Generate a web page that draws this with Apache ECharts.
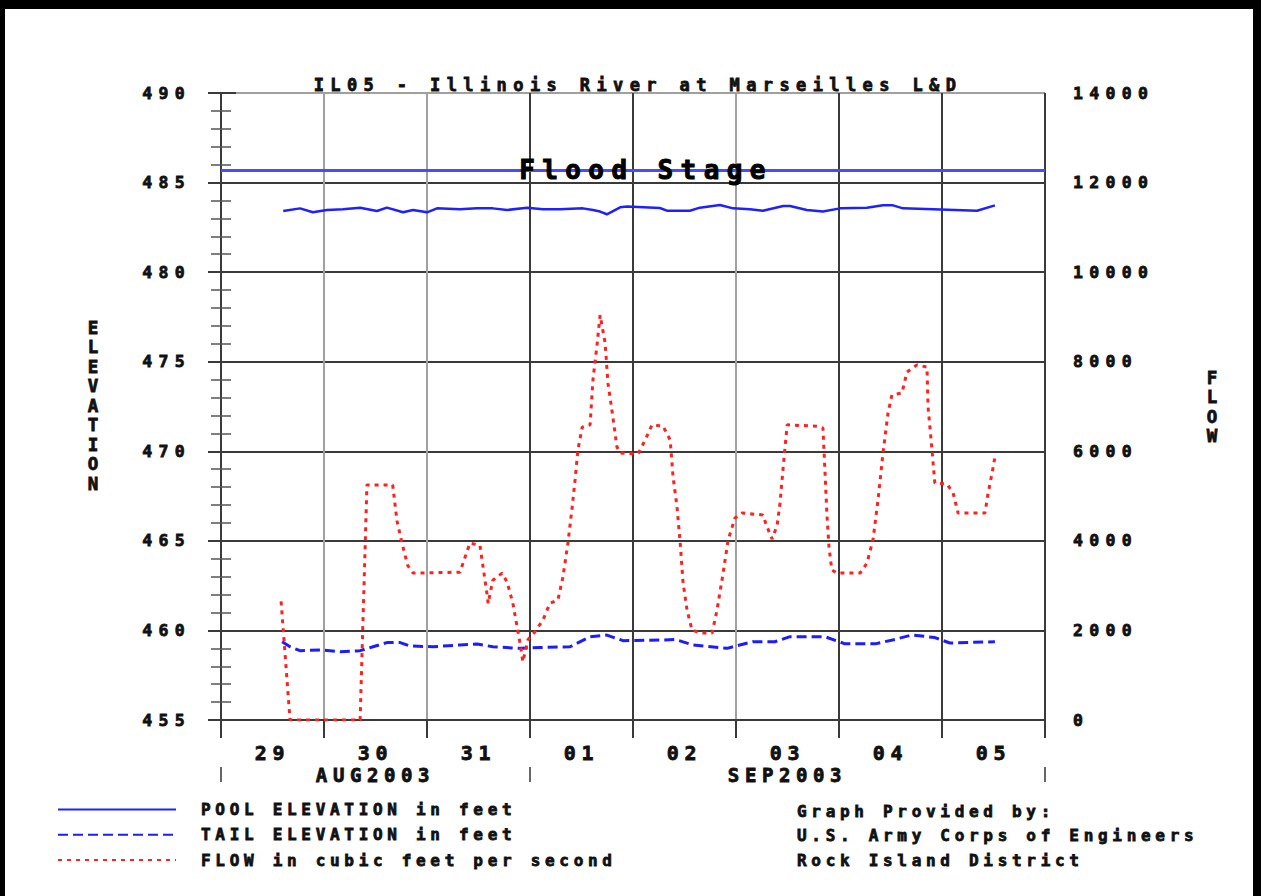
<!DOCTYPE html>
<html>
<head>
<meta charset="utf-8">
<title>IL05 - Illinois River at Marseilles L&amp;D</title>
<script src="https://cdn.jsdelivr.net/npm/echarts@6.0.0/dist/echarts.min.js"></script>
<style>
  html, body { margin: 0; padding: 0; background: #fff; }
  #wrap { position: relative; width: 1261px; height: 896px; }
  #chart { position: absolute; left: 0; top: 0; width: 1261px; height: 896px; }
  #frame {
    position: absolute; left: 0; top: 0; width: 1261px; height: 896px;
    box-sizing: border-box; pointer-events: none;
    border-top: 9px solid #000; border-left: 5px solid #000; border-right: 8px solid #000;
  }
</style>
</head>
<body>
<div id="wrap">
  <div id="chart"></div>
  <div id="frame"></div>
</div>
<script>
// ---- chart data -------------------------------------------------------
const TITLE = 'IL05 - Illinois River at Marseilles L&D';
const START = '2003-08-29 00:00';
const END = '2003-09-06 00:00';
const DAY_LABELS = ['29', '30', '31', '01', '02', '03', '04', '05'];
const MONTH_LABELS = ['AUG2003', 'SEP2003'];
const MONTH_STARTS = ['2003-08-29 00:00', '2003-09-01 00:00', '2003-09-06 00:00'];
const SERIES_NAMES = ['POOL ELEVATION in feet', 'TAIL ELEVATION in feet', 'FLOW in cubic feet per second'];
const FLOOD_STAGE = 485.7;
const CREDITS = ['Graph Provided by:', 'U.S. Army Corps of Engineers', 'Rock Island District'];

const POOL_TIMES = ['2003-08-29 14:30', '2003-08-29 18:25', '2003-08-29 21:25', '2003-08-30 00:40', '2003-08-30 04:25',
  '2003-08-30 08:25', '2003-08-30 12:20', '2003-08-30 14:40', '2003-08-30 18:25', '2003-08-30 20:45',
  '2003-08-31 00:00', '2003-08-31 02:20', '2003-08-31 07:40', '2003-08-31 11:40', '2003-08-31 15:20',
  '2003-08-31 18:40', '2003-08-31 23:20', '2003-09-01 03:00', '2003-09-01 07:00', '2003-09-01 12:20',
  '2003-09-01 14:40', '2003-09-01 16:20', '2003-09-01 17:55', '2003-09-01 21:00', '2003-09-01 22:35',
  '2003-09-02 06:15', '2003-09-02 07:55', '2003-09-02 13:15', '2003-09-02 15:35', '2003-09-02 20:15',
  '2003-09-02 23:20', '2003-09-03 03:15', '2003-09-03 06:15', '2003-09-03 11:00', '2003-09-03 12:35',
  '2003-09-03 16:30', '2003-09-03 20:15', '2003-09-04 00:15', '2003-09-04 06:30', '2003-09-04 10:15',
  '2003-09-04 12:35', '2003-09-04 14:55', '2003-09-04 21:55', '2003-09-05 08:10', '2003-09-05 12:20'];
const POOL_FT = [483.41, 483.56, 483.34, 483.47, 483.51,
  483.60, 483.41, 483.60, 483.34, 483.47,
  483.34, 483.56, 483.51, 483.56, 483.56,
  483.47, 483.60, 483.51, 483.51, 483.56,
  483.47, 483.38, 483.23, 483.62, 483.66,
  483.58, 483.43, 483.43, 483.60, 483.75,
  483.56, 483.51, 483.43, 483.69, 483.69,
  483.47, 483.38, 483.56, 483.60, 483.73,
  483.73, 483.56, 483.51, 483.43, 483.73];

const TAIL_TIMES = ['2003-08-29 14:15', '2003-08-29 16:05', '2003-08-29 18:25', '2003-08-29 23:45', '2003-08-30 03:45',
  '2003-08-30 08:25', '2003-08-30 11:25', '2003-08-30 14:40', '2003-08-30 17:45', '2003-08-30 20:00',
  '2003-08-31 01:25', '2003-08-31 07:40', '2003-08-31 11:40', '2003-08-31 15:20', '2003-08-31 21:40',
  '2003-09-01 02:20', '2003-09-01 09:20', '2003-09-01 14:00', '2003-09-01 17:55', '2003-09-01 21:40',
  '2003-09-02 06:15', '2003-09-02 09:45', '2003-09-02 14:00', '2003-09-02 21:55', '2003-09-03 03:55',
  '2003-09-03 09:05', '2003-09-03 12:35', '2003-09-03 20:45', '2003-09-04 01:25', '2003-09-04 08:25',
  '2003-09-04 13:05', '2003-09-04 17:00', '2003-09-04 22:20', '2003-09-05 01:50', '2003-09-05 12:20'];
const TAIL_FT = [459.37, 459.09, 458.87, 458.91, 458.81,
  458.87, 459.09, 459.32, 459.32, 459.13,
  459.09, 459.19, 459.24, 459.09, 459.00,
  459.05, 459.09, 459.65, 459.74, 459.43,
  459.46, 459.50, 459.19, 459.00, 459.37,
  459.37, 459.65, 459.65, 459.25, 459.25,
  459.50, 459.75, 459.60, 459.30, 459.37];

const FLOW_TIMES = ['2003-08-29 14:00', '2003-08-29 16:05', '2003-08-30 08:25', '2003-08-30 10:00', '2003-08-30 16:00',
  '2003-08-30 17:00', '2003-08-30 18:10', '2003-08-30 19:30', '2003-08-30 20:45', '2003-08-31 07:40',
  '2003-08-31 10:00', '2003-08-31 12:20', '2003-08-31 14:00', '2003-08-31 14:15', '2003-08-31 15:20',
  '2003-08-31 17:30', '2003-08-31 18:40', '2003-08-31 20:00', '2003-08-31 21:00', '2003-08-31 21:40',
  '2003-08-31 22:20', '2003-08-31 23:30', '2003-09-01 01:10', '2003-09-01 03:00', '2003-09-01 04:40',
  '2003-09-01 06:30', '2003-09-01 07:40', '2003-09-01 08:50', '2003-09-01 09:50', '2003-09-01 10:30',
  '2003-09-01 11:10', '2003-09-01 12:10', '2003-09-01 14:00', '2003-09-01 14:40', '2003-09-01 15:40',
  '2003-09-01 16:20', '2003-09-01 17:30', '2003-09-01 18:10', '2003-09-01 19:05', '2003-09-01 20:15',
  '2003-09-01 21:00', '2003-09-02 01:10', '2003-09-02 02:50', '2003-09-02 04:25', '2003-09-02 07:00',
  '2003-09-02 08:40', '2003-09-02 09:20', '2003-09-02 10:15', '2003-09-02 11:00', '2003-09-02 11:40',
  '2003-09-02 12:35', '2003-09-02 13:45', '2003-09-02 15:35', '2003-09-02 18:25', '2003-09-02 19:35',
  '2003-09-02 21:00', '2003-09-02 22:10', '2003-09-02 23:45', '2003-09-03 01:25', '2003-09-03 06:15',
  '2003-09-03 07:15', '2003-09-03 08:25', '2003-09-03 09:35', '2003-09-03 10:15', '2003-09-03 11:00',
  '2003-09-03 11:55', '2003-09-03 18:50', '2003-09-03 20:15', '2003-09-03 20:45', '2003-09-03 21:10',
  '2003-09-03 21:40', '2003-09-03 22:20', '2003-09-03 23:30', '2003-09-04 04:55', '2003-09-04 06:30',
  '2003-09-04 07:55', '2003-09-04 09:05', '2003-09-04 10:15', '2003-09-04 11:25', '2003-09-04 12:20',
  '2003-09-04 14:40', '2003-09-04 15:50', '2003-09-04 18:10', '2003-09-04 20:30', '2003-09-04 20:45',
  '2003-09-04 21:40', '2003-09-04 22:20', '2003-09-05 01:10', '2003-09-05 02:35', '2003-09-05 03:45',
  '2003-09-05 10:00', '2003-09-05 10:45', '2003-09-05 11:40', '2003-09-05 12:20'];
const FLOW_CFS = [2650, 0, 0, 5250, 5250,
  4450, 3950, 3450, 3280, 3300,
  3950, 3900, 2800, 2600, 3120,
  3280, 3080, 2610, 2080, 1720,
  1300, 1790, 1970, 2230, 2610,
  2680, 3190, 3950, 4760, 5360,
  6030, 6540, 6590, 7590, 8420,
  9040, 8420, 7520, 6920, 6100,
  5960, 5940, 6250, 6590, 6560,
  6250, 5430, 4760, 3950, 3060,
  2460, 2010, 1940, 1940, 2460,
  3280, 4020, 4510, 4620, 4580,
  4310, 4040, 4350, 4840, 5650,
  6590, 6560, 6520, 5510, 4620,
  3860, 3350, 3280, 3280, 3500,
  4020, 4910, 5960, 6850, 7260,
  7300, 7770, 7930, 7880, 6990,
  6030, 5290, 5270, 5070, 4620,
  4620, 5070, 5510, 5870];

// ---- helpers ----------------------------------------------------------
// Hours elapsed since the start of the plotted period.
function hoursOf(stamp) {
  const [d, t] = stamp.split(' ');
  const [Y, M, D] = d.split('-').map(Number);
  const [h, m] = t.split(':').map(Number);
  const [Y0, M0, D0] = START.split(' ')[0].split('-').map(Number);
  return (Date.UTC(Y, M - 1, D, h, m) - Date.UTC(Y0, M0 - 1, D0)) / 3600000;
}
const pairs = (times, vals) => times.map((t, i) => [hoursOf(t), vals[i]]);

const SPAN_H = hoursOf(END);
const DAY_CENTERS = DAY_LABELS.map((_, i) => i * 24 + 12);
const MONTH_EDGES = MONTH_STARTS.map(hoursOf);
const MONTH_CENTERS = MONTH_LABELS.map((_, i) => (MONTH_EDGES[i] + MONTH_EDGES[i + 1]) / 2);

const FONT = '"DejaVu Sans Mono", "Liberation Mono", monospace';

// Wide bitmap-style lettering: extra tracking per font size.
const TRACKING = { '17px': 6.4, '16.5px': 6.3, '20px': 5.6, '19px': 5.6, '16px': 4.7, '26px': 7.4 };
const css = Object.keys(TRACKING)
  .map(k => `#chart text[style*="${k}"] { letter-spacing: ${TRACKING[k]}px; }`).join('\n');
const styleTag = document.createElement('style');
styleTag.textContent = css;
document.head.appendChild(styleTag);

const DARK = '#3a3a3a';
const GREY = '#a0a0a0';
const INK = '#111111';

const chart = echarts.init(document.getElementById('chart'), null, { renderer: 'svg' });

// Heavy lettering: bold face plus a thin outline in the same ink.
const txt = (size) => ({
  fontFamily: FONT, fontWeight: 'bold', fontSize: size, color: INK,
  textBorderColor: INK, textBorderWidth: 0.8
});

chart.setOption({
  animation: false,
  backgroundColor: '#ffffff',
  title: {
    text: TITLE,
    left: 633, top: 71, textAlign: 'center',
    textStyle: txt(17)
  },
  grid: { left: 221, top: 93, width: 824, height: 627 },
  legend: {
    orient: 'vertical',
    left: 57, top: 801, padding: 0,
    itemWidth: 118, itemHeight: 14, itemGap: 8.5,
    selectedMode: false,
    itemStyle: { opacity: 0 },
    data: SERIES_NAMES,
    textStyle: Object.assign(txt(16), { padding: [0, 0, 0, 20] })
  },
  xAxis: [
    {
      type: 'value', min: 0, max: SPAN_H, interval: 24,
      axisLine: { show: true, lineStyle: { color: DARK, width: 2 } },
      axisTick: { show: true, length: 18, lineStyle: { color: DARK, width: 2 } },
      axisLabel: {
        customValues: DAY_CENTERS,
        formatter: v => DAY_LABELS[Math.round((v - 12) / 24)],
        margin: 23,
        ...txt(20)
      },
      splitLine: {
        show: true,
        lineStyle: { width: 2, color: [DARK, GREY, GREY, DARK, DARK, GREY, DARK, DARK, DARK] }
      }
    },
    {
      type: 'value', min: 0, max: SPAN_H, position: 'bottom', offset: 47,
      axisLine: { show: false },
      axisTick: { show: true, customValues: MONTH_EDGES, length: 15, lineStyle: { color: '#666', width: 2 } },
      axisLabel: {
        customValues: MONTH_CENTERS,
        formatter: v => MONTH_LABELS[MONTH_CENTERS.indexOf(v)],
        margin: -2,
        ...txt(19)
      },
      splitLine: { show: false }
    }
  ],
  yAxis: [
    {
      type: 'value', position: 'left', min: 455, max: 490, interval: 5,
      axisLine: { show: true, lineStyle: { color: DARK, width: 2 } },
      axisTick: { show: true, length: 13, lineStyle: { color: DARK, width: 2 } },
      minorTick: { show: true, splitNumber: 5, length: 10, lineStyle: { color: '#555', width: 1.5 } },
      axisLabel: { margin: 30, formatter: v => String(v), ...txt(16.5) },
      splitLine: {
        show: true,
        lineStyle: { width: 2, color: [DARK, DARK, DARK, DARK, DARK, DARK, DARK, GREY] }
      }
    },
    {
      type: 'value', position: 'right', min: 0, max: 14000, interval: 2000,
      axisLine: { show: true, lineStyle: { color: DARK, width: 2 } },
      axisTick: { show: true, length: 15, lineStyle: { color: DARK, width: 2 } },
      minorTick: { show: true, splitNumber: 5, length: 10, lineStyle: { color: '#555', width: 1.5 } },
      axisLabel: { margin: 28, formatter: v => String(v), ...txt(16.5) },
      splitLine: { show: false }
    }
  ],
  graphic: [
    {
      type: 'text', x: 93, y: 318,
      style: { text: 'ELEVATION'.split('').join('\n'), align: 'center', verticalAlign: 'top',
               lineHeight: 19.5, font: 'bold 17.5px ' + FONT, fill: INK, stroke: INK, lineWidth: 0.8 }
    },
    {
      type: 'text', x: 1212, y: 368,
      style: { text: 'FLOW'.split('').join('\n'), align: 'center', verticalAlign: 'top',
               lineHeight: 19.5, font: 'bold 17.5px ' + FONT, fill: INK, stroke: INK, lineWidth: 0.8 }
    },
    {
      type: 'text', x: 797, y: 799,
      style: { text: CREDITS.join('\n'), align: 'left', verticalAlign: 'top',
               lineHeight: 24.5, font: 'bold 16px ' + FONT, fill: INK, stroke: INK, lineWidth: 0.8 }
    }
  ],
  series: [
    {
      name: SERIES_NAMES[0], type: 'line', xAxisIndex: 0, yAxisIndex: 0,
      data: pairs(POOL_TIMES, POOL_FT),
      symbol: 'none', z: 4,
      lineStyle: { color: '#2020ff', width: 2.5 },
      itemStyle: { color: '#2020ff' },
      markLine: {
        silent: true, symbol: 'none', animation: false,
        data: [{ yAxis: FLOOD_STAGE }],
        lineStyle: { color: '#4a4aff', width: 3, type: 'solid' },
        label: {
          show: true, position: 'insideMiddle', formatter: 'Flood Stage',
          ...txt(26), color: '#000', textBorderColor: '#000', textBorderWidth: 1,
          padding: [0, 0, 0, 26]
        },
        emphasis: { disabled: true }
      }
    },
    {
      name: SERIES_NAMES[1], type: 'line', xAxisIndex: 0, yAxisIndex: 0,
      data: pairs(TAIL_TIMES, TAIL_FT),
      symbol: 'none', z: 3,
      lineStyle: { color: '#1c1cff', width: 3, type: [10, 5] },
      itemStyle: { color: '#1c1cff' }
    },
    {
      name: SERIES_NAMES[2], type: 'line', xAxisIndex: 0, yAxisIndex: 1,
      data: pairs(FLOW_TIMES, FLOW_CFS),
      symbol: 'none', z: 5,
      lineStyle: { color: '#ff2020', width: 3, type: [4, 5] },
      itemStyle: { color: '#ff2020' }
    }
  ]
});
</script>
</body>
</html>
